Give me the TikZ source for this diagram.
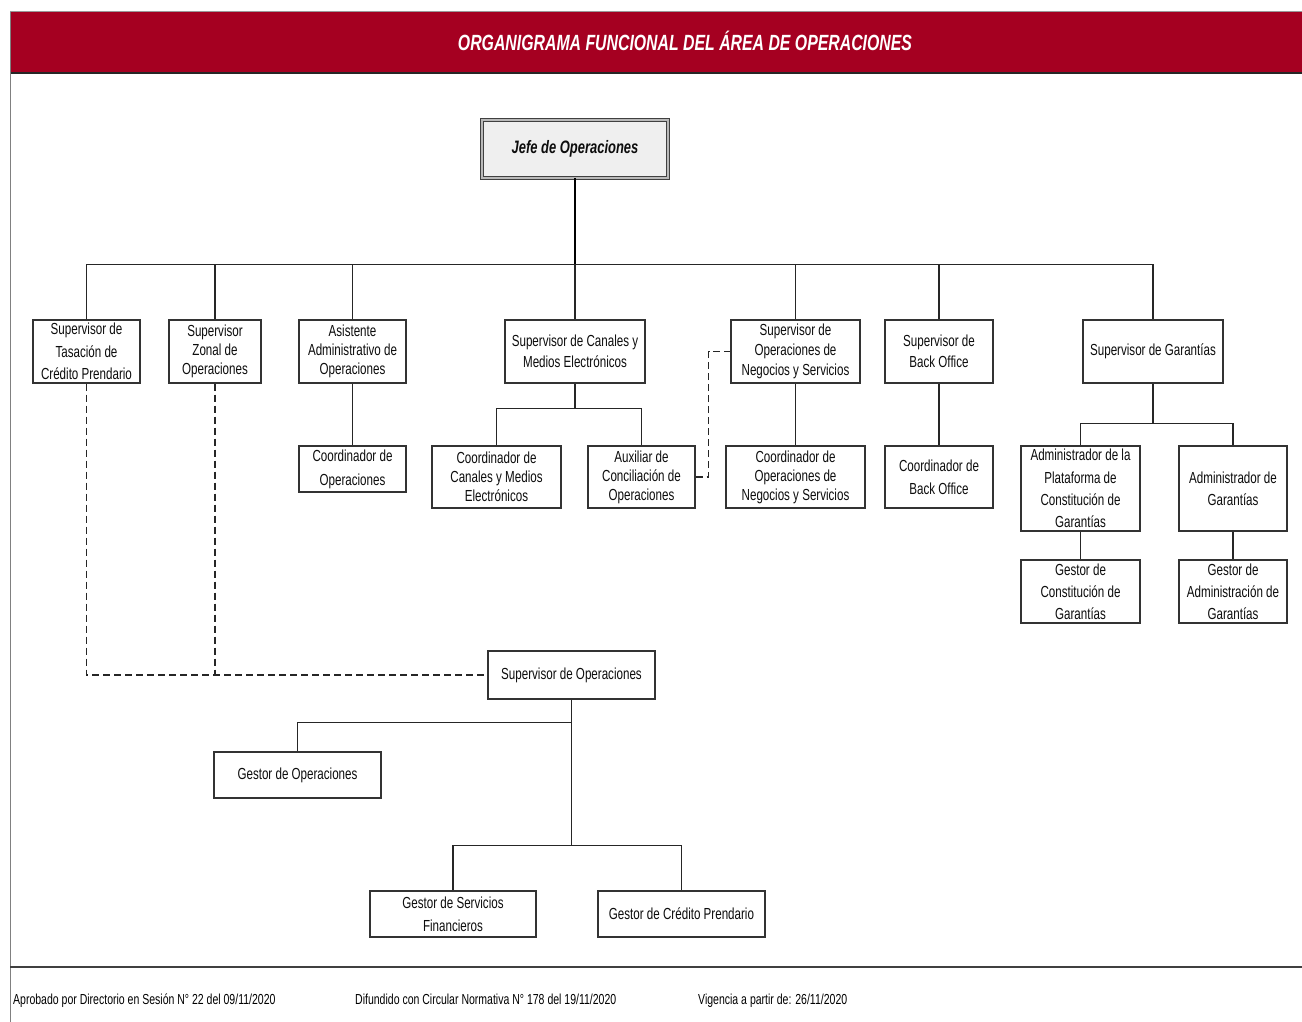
\documentclass[tikz,border=0pt]{standalone}
\usepackage{fontspec}
\setmainfont[FakeStretch=0.725]{Liberation Sans}
\newfontfamily\titlefont[FakeStretch=0.72]{Liberation Sans}
\definecolor{hdr}{HTML}{A50021}
\definecolor{boxfill}{HTML}{EFEFEF}
\begin{document}
\begin{tikzpicture}[x=1pt,y=-1pt,
  box/.style={draw=black!80, line width=1.1pt, fill=white, align=center, inner sep=0pt,
    text=black!95, font=\fontsize{16}{20}\selectfont},
  conn/.style={draw=black!85, line width=1.4pt},
  dsh/.style={draw=black!85, line width=1.3pt, dash pattern=on 7pt off 4pt},
  ftxt/.style={anchor=base west, inner sep=0pt, text=black, font=\fontsize{14.5}{16}\selectfont}]
\useasboundingbox (0,0) rectangle (1302,1022);
\fill[white] (0,0) rectangle (1302,1022);
% header
\fill[hdr] (10,12) rectangle (1302,73);
\draw[black!40, line width=1pt] (10,11.5) -- (1302,11.5);
\draw[black!85, line width=2pt] (10,73) -- (1302,73);
\draw[black!50, line width=1pt] (10,12) -- (10,1022);
\node[text=white, font=\titlefont\bfseries\itshape\fontsize{22}{26}\selectfont] (title) at (685,41) {ORGANIGRAMA FUNCIONAL DEL ÁREA DE OPERACIONES};
% bottom rule and footer
\draw[black!75, line width=2.2pt] (10,967) -- (1302,967);
\node[ftxt] (f1) at (13,1004) {Aprobado por Directorio en Sesión N° 22 del 09/11/2020};
\node[ftxt] (f2) at (355,1004) {Difundido con Circular Normativa N° 178 del 19/11/2020};
\node[ftxt] (f3) at (698,1004) {Vigencia a partir de: 26/11/2020};
% top
\node[box, fill=boxfill, draw=black!75, double=gray!55, double distance=2pt, line width=0.9pt,
  minimum width=186pt, minimum height=58pt, font=\titlefont\bfseries\itshape\fontsize{18}{22}\selectfont] (jefe) at (575,149) {Jefe de Operaciones};
% level 1
\node[box, minimum width=107pt, minimum height=63pt, font=\fontsize{16}{22.5}\selectfont] (tas) at (86.5,351.5) {Supervisor de\\Tasación de\\Crédito Prendario};
\node[box, minimum width=92pt, minimum height=63pt, font=\fontsize{16}{19}\selectfont] (zon) at (215,351.5) {Supervisor\\Zonal de\\Operaciones};
\node[box, minimum width=107pt, minimum height=63pt, font=\fontsize{16}{19}\selectfont] (asi) at (352.5,351.5) {Asistente\\Administrativo de\\Operaciones};
\node[box, minimum width=140pt, minimum height=63pt, font=\fontsize{16}{21}\selectfont] (can) at (575,351.5) {Supervisor de Canales y\\Medios Electrónicos};
\node[box, minimum width=129pt, minimum height=63pt, font=\fontsize{16}{20}\selectfont] (neg) at (795.5,351.5) {Supervisor de\\Operaciones de\\Negocios y Servicios};
\node[box, minimum width=108pt, minimum height=63pt, font=\fontsize{16}{21}\selectfont] (bo) at (939,351.5) {Supervisor de\\Back Office};
\node[box, minimum width=140pt, minimum height=63pt] (gar) at (1153,351.5) {Supervisor de Garantías};
% level 2
\node[box, minimum width=107pt, minimum height=46pt, font=\fontsize{16}{24}\selectfont] (coop) at (352.5,469) {Coordinador de\\Operaciones};
\node[box, minimum width=129pt, minimum height=62pt, font=\fontsize{16}{19}\selectfont] (ccan) at (496.5,477) {Coordinador de\\Canales y Medios\\Electrónicos};
\node[box, minimum width=107pt, minimum height=62pt, font=\fontsize{16}{19}\selectfont] (aux) at (641.5,477) {Auxiliar de\\Conciliación de\\Operaciones};
\node[box, minimum width=139pt, minimum height=62pt, font=\fontsize{16}{19}\selectfont] (cneg) at (795.5,477) {Coordinador de\\Operaciones de\\Negocios y Servicios};
\node[box, minimum width=108pt, minimum height=62pt, font=\fontsize{16}{23}\selectfont] (cbo) at (939,477) {Coordinador de\\Back Office};
\node[box, minimum width=119pt, minimum height=85pt, font=\fontsize{16}{22.3}\selectfont] (apl) at (1080.5,488.5) {Administrador de la\\Plataforma de\\Constitución de\\Garantías};
\node[box, minimum width=108pt, minimum height=85pt, font=\fontsize{16}{22.3}\selectfont] (agar) at (1233,488.5) {Administrador de\\Garantías};
% level 3
\node[box, minimum width=119pt, minimum height=63pt, font=\fontsize{16}{22}\selectfont] (gcon) at (1080.5,591.5) {Gestor de\\Constitución de\\Garantías};
\node[box, minimum width=108pt, minimum height=63pt, font=\fontsize{16}{22}\selectfont] (gadm) at (1233,591.5) {Gestor de\\Administración de\\Garantías};
% supervisor de operaciones branch
\node[box, minimum width=167pt, minimum height=48pt] (supop) at (571.5,675) {Supervisor de Operaciones};
\node[box, minimum width=167pt, minimum height=46pt] (gop) at (297.5,775) {Gestor de Operaciones};
\node[box, minimum width=166pt, minimum height=46pt, font=\fontsize{16}{23}\selectfont] (gsf) at (453,914) {Gestor de Servicios\\Financieros};
\node[box, minimum width=167pt, minimum height=46pt] (gcp) at (681.5,914) {Gestor de Crédito Prendario};
% connectors
\draw[conn, line width=2.2pt, black] (jefe.south) -- ++(0,86) coordinate (j1);
\draw[conn, line width=1.7pt] (tas.north) |- (j1) -| (gar.north);
\foreach \n in {zon,asi,can,neg,bo}{\draw[conn] (\n.north) -- (\n.north |- j1);}
\draw[conn] (asi.south) -- (coop.north);
\draw[conn] (can.south) -- ++(0,25) coordinate (c1);
\draw[conn] (ccan.north) |- (c1) -| (aux.north);
\draw[conn] (neg.south) -- (cneg.north);
\draw[conn] (bo.south) -- (cbo.north);
\draw[conn, line width=1.7pt] (gar.south) -- ++(0,40) coordinate (g1);
\draw[conn] (apl.north) |- (g1) -| (agar.north);
\draw[conn] (apl.south) -- (gcon.north);
\draw[conn] (agar.south) -- (gadm.north);
\draw[dsh] (aux.east) -- ++(13,0) |- (neg.west);
\draw[dsh] (tas.south) |- (supop.west);
\draw[dsh] (zon.south) -- (zon.south |- supop.west);
\draw[conn, line width=1.7pt] (supop.south) -- ++(0,146) coordinate (s2);
\path (supop.south) ++(0,23) coordinate (s1);
\draw[conn] (gop.north) |- (s1);
\draw[conn] (gsf.north) |- (s2) -| (gcp.north);
\end{tikzpicture}
\end{document}
